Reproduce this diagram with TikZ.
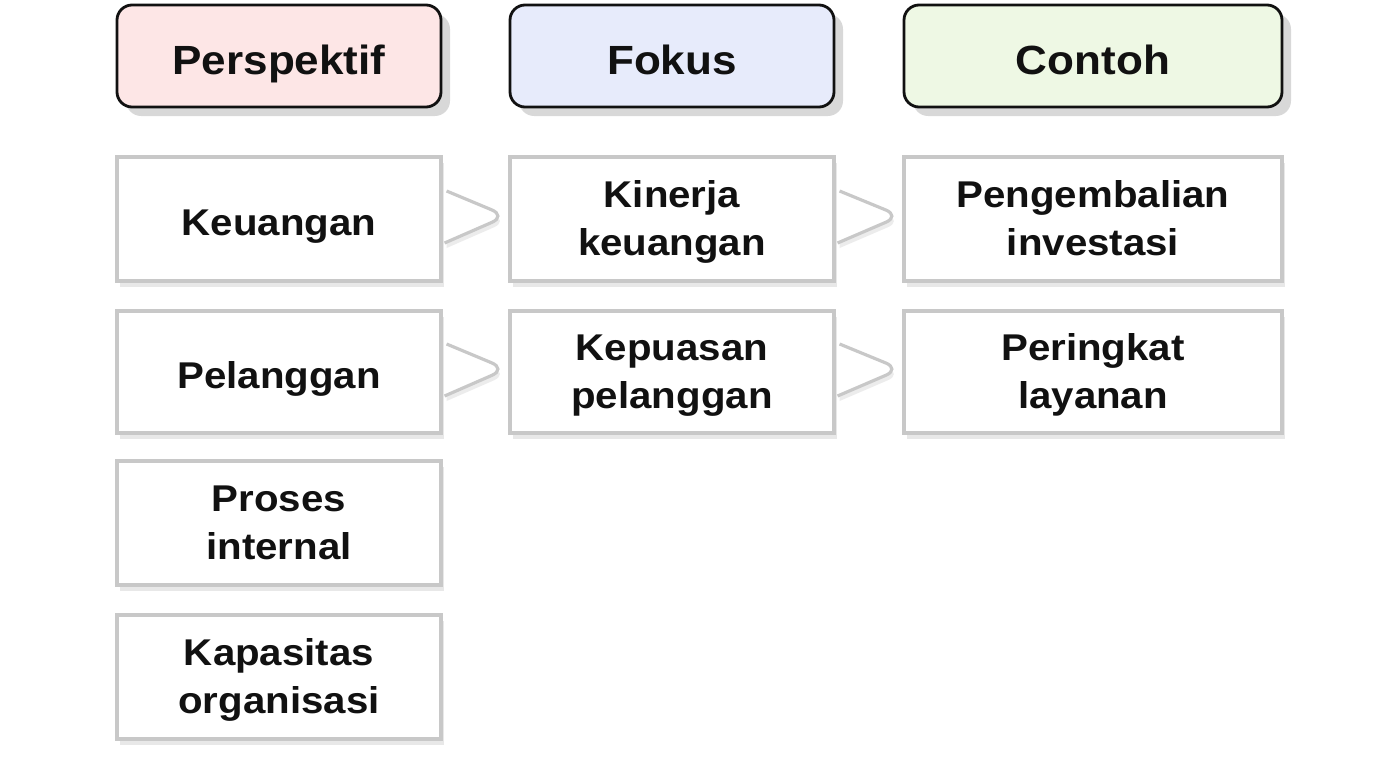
\documentclass[tikz,border=0pt]{standalone}
\usepackage{fontspec}
\setmainfont{Liberation Sans}[FakeStretch=1.08]
\usetikzlibrary{calc,shadows}
\definecolor{cPersp}{HTML}{FDE6E6}
\definecolor{cFokus}{HTML}{E7EBFB}
\definecolor{cContoh}{HTML}{EEF8E4}
\definecolor{cEdge}{HTML}{C8C8C8}
\definecolor{cInk}{HTML}{111111}
\tikzset{
  head/.style={draw=cInk, line width=0.8pt, rounded corners=4.3pt, align=center,
               minimum height=1.02cm, inner sep=2pt, text=cInk,
               font=\fontsize{11.6}{15}\selectfont\bfseries,
               text height=11.4pt, text depth=1pt,
               drop shadow={shadow xshift=0.09cm, shadow yshift=-0.09cm, opacity=0.3, fill=black!50}},
  item/.style={draw=cEdge, line width=0.9pt, fill=white, align=center,
               minimum height=1.24cm, inner sep=2pt, text=cInk,
               font=\fontsize{10.6}{13.9}\selectfont\bfseries,
               text height=11.2pt, text depth=2pt,
               drop shadow={shadow xshift=0.03cm, shadow yshift=-0.06cm, opacity=0.2, fill=black!45}},
  item2/.style={item, text height=23pt},
  chev/.style={draw=cEdge, line width=0.9pt, fill=white, rounded corners=4.5pt,
               drop shadow={shadow xshift=0.02cm, shadow yshift=-0.05cm, opacity=0.16, fill=black!45}},
}

\begin{document}
\begin{tikzpicture}[x=1cm,y=1cm]
\useasboundingbox[fill=white] (0,0) rectangle (13.76,-7.68);

% ---------------------------------------------------------------- column heads
\node[head, fill=cPersp,  minimum width=3.24cm] (pHead) at (2.79,-0.56) {Perspektif};
\node[head, fill=cFokus,  minimum width=3.24cm] (fHead) at (6.72,-0.56) {Fokus};
\node[head, fill=cContoh, minimum width=3.78cm] (cHead) at (10.93,-0.56) {Contoh};

% ---------------------------------------------------------------- perspectives
\node[item,  minimum width=3.24cm] (p1) at (2.79,-2.19) {Keuangan};
\node[item,  minimum width=3.24cm, minimum height=1.22cm] (p2) at (2.79,-3.72) {Pelanggan};
\node[item2, minimum width=3.24cm] (p3) at (2.79,-5.23) {Proses\\internal};
\node[item2, minimum width=3.24cm] (p4) at (2.79,-6.77) {Kapasitas\\organisasi};

% ---------------------------------------------------------------- focus and examples
\node[item2, minimum width=3.24cm] (f1) at (6.72,-2.19) {Kinerja\\keuangan};
\node[item2, minimum width=3.24cm, minimum height=1.22cm] (f2) at (6.72,-3.72) {Kepuasan\\pelanggan};
\node[item2, minimum width=3.78cm] (c1) at (10.93,-2.19) {Pengembalian\\investasi};
\node[item2, minimum width=3.78cm, minimum height=1.22cm] (c2) at (10.93,-3.72) {Peringkat\\layanan};

% ---------------------------------------------------------------- chevrons
\foreach \a/\b in {p1/f1,f1/c1,p2/f2,f2/c2}
  \draw[chev] ($(\a.east)+(0.04,0.28)$) -- ($(\b.west)+(-0.02,0.03)$) -- ($(\a.east)+(0.02,-0.24)$);

\end{tikzpicture}
\end{document}
